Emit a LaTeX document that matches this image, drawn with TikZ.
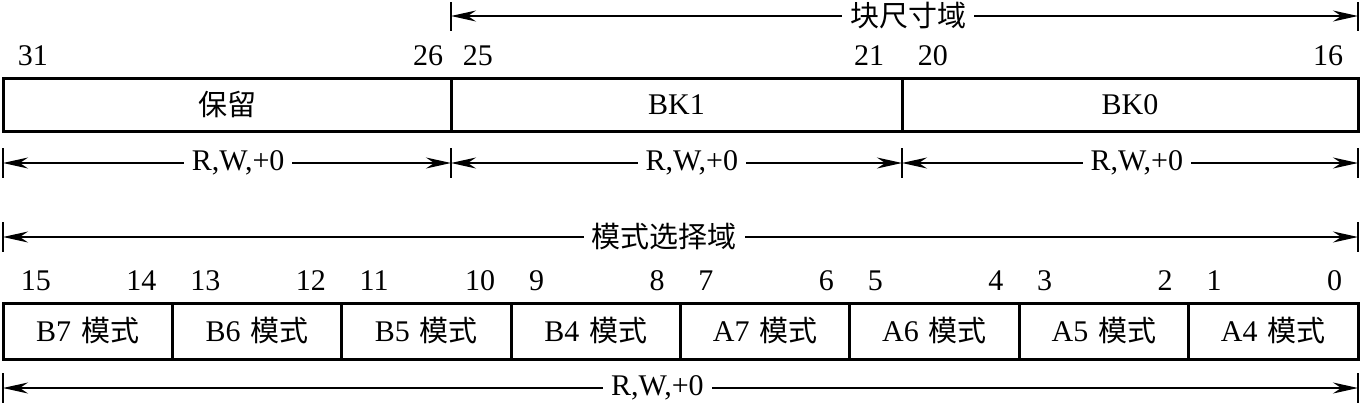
\documentclass[tikz,border=0pt]{standalone}
\usepackage{fontspec}
\setmainfont{Liberation Serif}
\newfontfamily\cjk{Noto Sans CJK SC}
\usetikzlibrary{arrows.meta,calc}
\newcommand\zh[1]{{\cjk\fontsize{14.5}{17}\selectfont #1}}
\tikzset{
  field/.style={draw, line width=1.5pt, inner sep=0pt, minimum height=26.5pt,
              font=\fontsize{15}{17}\selectfont},
  bitnum/.style={inner sep=0pt, font=\fontsize{15}{17}\selectfont},
  span/.style={<->, line width=0.65pt},
  spanlabel/.style={fill=white, inner sep=4pt, font=\fontsize{15}{17}\selectfont},
  tickmark/.style={line width=1pt},
  >={Stealth[length=12.5pt,width=5.5pt]},
}
\begin{document}
\begin{tikzpicture}[x=0.5pt,y=-0.5pt]
\useasboundingbox (0,0) rectangle (1361,402);
% upper register, bits 31..16
\node[field, minimum width=224pt] (rsv) at (227,104.5) {\zh{保留}};
\node[field, minimum width=225.5pt] (bk1) at (676.5,104.5) {BK1};
\node[field, minimum width=228pt] (bk0) at (1130,104.5) {BK0};
\node[bitnum, anchor=base west] (n31) at ($(rsv.north west)+(16,-11)$) {31};
\node[bitnum, anchor=base east] (n26) at ($(rsv.north east)+(-9,-11)$) {26};
\node[bitnum, anchor=base west] (n25) at ($(bk1.north west)+(13,-11)$) {25};
\node[bitnum, anchor=base east] (n21) at ($(bk1.north east)+(-19,-11)$) {21};
\node[bitnum, anchor=base west] (n20) at ($(bk0.north west)+(17,-11)$) {20};
\node[bitnum, anchor=base east] (n16) at ($(bk0.north east)+(-16,-11)$) {16};

% block size field
\coordinate (bs0) at (451,16);
\coordinate (bs1) at (1358,16);
\foreach \c in {bs0,bs1}
  \draw[tickmark] ($(\c)+(0,-14)$) -- ($(\c)+(0,15)$);
\draw[span] (bs0) -- (bs1) node[spanlabel, pos=0.504] (bsize) {\zh{块尺寸域}};

% access of the upper fields
\foreach \x [count=\i from 0] in {3,451,902,1358} {
  \coordinate (r\i) at (\x,163);
  \draw[tickmark] ($(r\i)+(0,-15)$) -- ($(r\i)+(0,15)$);
}
\draw[span] (r0) -- (r1) node[spanlabel, pos=0.525] (acc0) {R,W,+0};
\draw[span] (r1) -- (r2) node[spanlabel, pos=0.534] (acc1) {R,W,+0};
\draw[span] (r2) -- (r3) node[spanlabel, pos=0.515] (acc2) {R,W,+0};

% mode select field
\coordinate (ms0) at (3,237);
\coordinate (ms1) at (1358,237);
\foreach \c in {ms0,ms1}
  \draw[tickmark] ($(\c)+(0,-15)$) -- ($(\c)+(0,15)$);
\draw[span] (ms0) -- (ms1) node[spanlabel, pos=0.488] (msel) {\zh{模式选择域}};

% lower register, bits 15..0
\foreach \lab [count=\i from 0] in {B7,B6,B5,B4,A7,A6,A5,A4} {
  \pgfmathtruncatemacro\hi{15-2*\i}
  \pgfmathtruncatemacro\lo{14-2*\i}
  \node[field, minimum width=84.6875pt, minimum height=28pt] (m\i)
    at ({3+169.375*(\i+0.5)},331) {\lab\hspace{5pt}\zh{模式}};
  \node[bitnum, anchor=base west] (h\i) at ($(m\i.north west)+(19,-11)$) {\hi};
  \node[bitnum, anchor=base east] (l\i) at ($(m\i.north east)+(-17,-11)$) {\lo};
}

% access of the lower register
\coordinate (w0) at (3,388);
\coordinate (w1) at (1358,388);
\foreach \c in {w0,w1}
  \draw[tickmark] ($(\c)+(0,-15)$) -- ($(\c)+(0,16)$);
\draw[span] (w0) -- (w1) node[spanlabel, pos=0.483] (acc3) {R,W,+0};
\end{tikzpicture}
\end{document}
